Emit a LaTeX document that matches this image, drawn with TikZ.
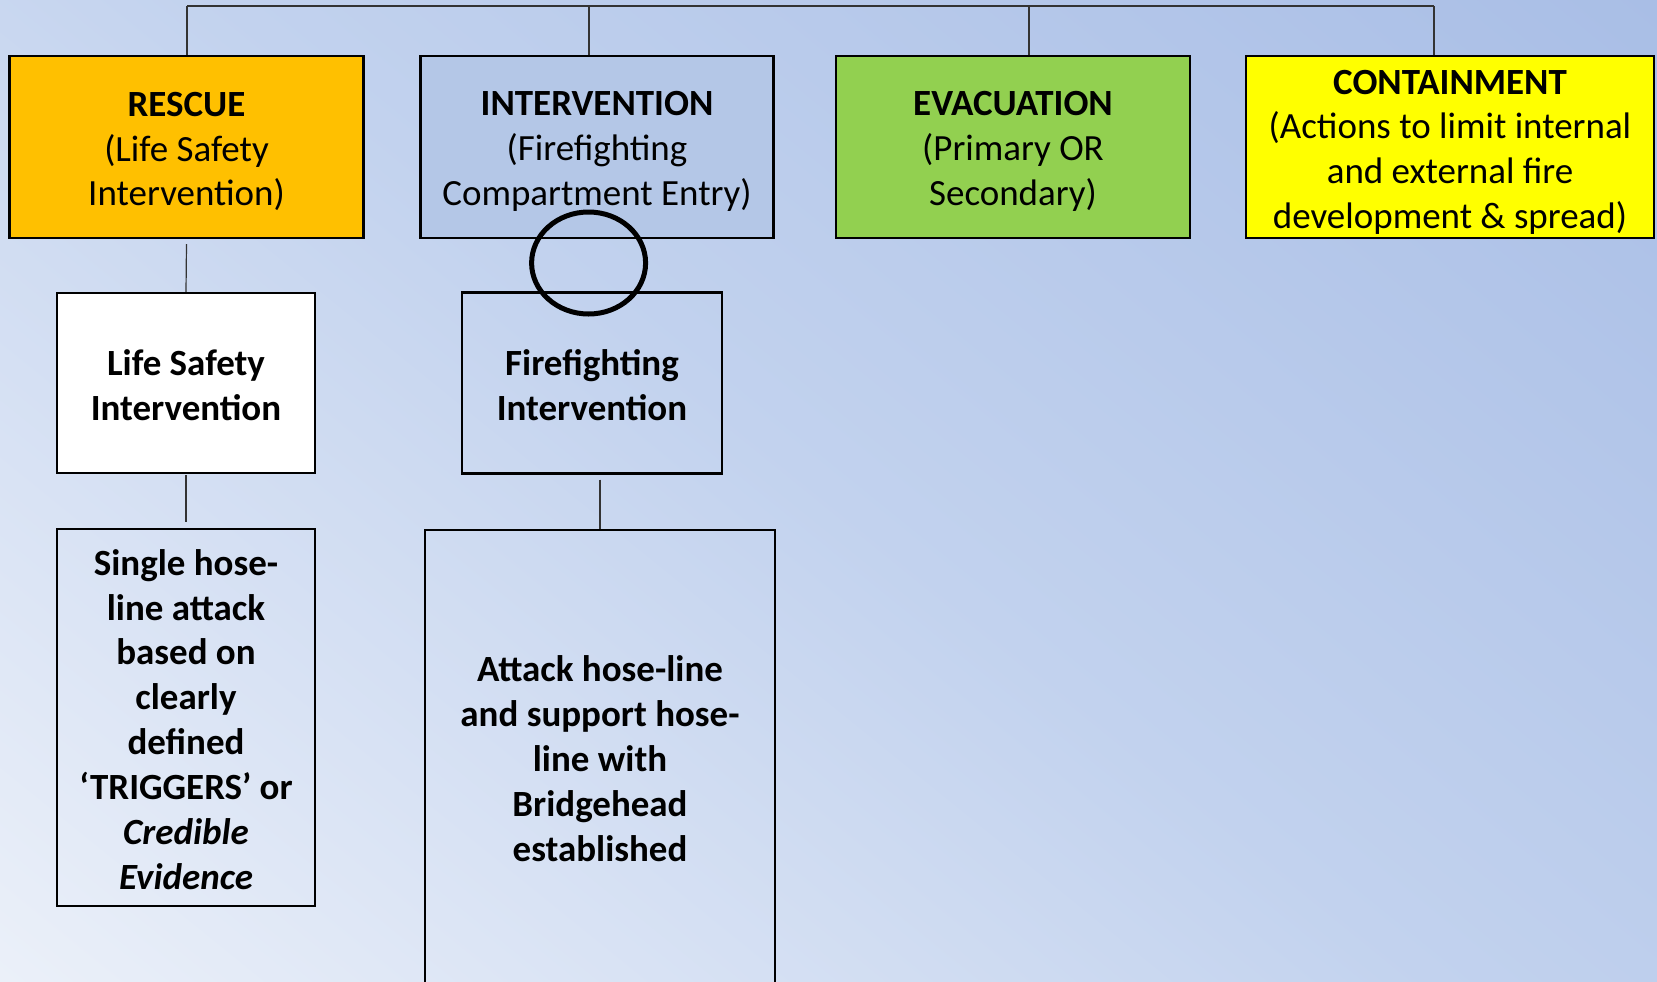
\documentclass[tikz,border=0pt]{standalone}
\usepackage{fontspec}
\setmainfont{Carlito}
\usetikzlibrary{calc}

\definecolor{bgA}{HTML}{EBF0F9}
\definecolor{bgB}{HTML}{C2D2EE}
\definecolor{bgC}{HTML}{A9BEE6}
\definecolor{rescueC}{HTML}{FFC000}
\definecolor{intervC}{HTML}{B4C7E7}
\definecolor{evacC}{HTML}{92D050}
\definecolor{containC}{HTML}{FFFF00}

% diagonal backdrop: light in the lower left, deeper blue in the upper right
\pgfdeclarehorizontalshading{bgshade}{2000bp}{color(0bp)=(bgA); color(48bp)=(bgA); color(950bp)=(bgB); color(1852bp)=(bgC); color(1900bp)=(bgC)}

\begin{document}
\begin{tikzpicture}[x=1bp,y=-1bp,
  box/.style={draw=black, line width=2.4bp, rectangle, inner sep=0pt},
  topbox/.style={box, minimum height=182bp},
  txt/.style={align=center, inner sep=0pt, font=\fontsize{37.1}{45.1}\selectfont},
  btxt/.style={txt, font=\fontsize{37.1}{45.1}\selectfont\bfseries},
  conn/.style={draw=black!80, line width=1.2bp},
  ring/.style={draw=black, line width=5bp}]
\useasboundingbox (0,0) rectangle (1657,981);
\begin{scope}
\clip (0,0) rectangle (1657,981);
\node[inner sep=0pt, rotate=51] (backdrop) at (828.5,490.5) {\pgfuseshading{bgshade}};

% top row
\node[topbox, fill=rescueC, minimum width=354bp] (rescue) at (186.5,147) {};
\node[txt] (rescue-t) at ($(rescue)+(0,4.5)$)
  {\textbf{RESCUE}\\(Life Safety\\Intervention)};
\node[topbox, fill=intervC, minimum width=353bp] (interv) at (597,147) {};
\node[txt] (interv-t) at ($(interv)+(0,4.5)$)
  {\textbf{INTERVENTION}\\(Firefighting\\Compartment Entry)};
\node[topbox, fill=evacC, minimum width=354bp] (evac) at (1013,147) {};
\node[txt] (evac-t) at ($(evac)+(0,4.5)$)
  {\textbf{EVACUATION}\\(Primary OR\\Secondary)};
\node[topbox, fill=containC, minimum width=408bp] (contain) at (1450,147) {};
\node[txt] (contain-t) at ($(contain)+(0,5.3)$)
  {\textbf{CONTAINMENT}\\(Actions to limit internal\\and external fire\\development \& spread)};

% second row
\node[box, fill=white, minimum width=258bp, minimum height=180bp] (life) at (186,383) {};
\node[btxt] (life-t) at ($(life)+(0,2)$) {Life Safety\\Intervention};
\node[box, minimum width=260bp, minimum height=181bp] (fire) at (592,383) {};
\node[btxt] (fire-t) at ($(fire)+(0,2)$) {Firefighting\\Intervention};

% third row
\node[box, minimum width=258bp, minimum height=377bp] (single) at (186,717.5) {};
\node[btxt] (single-t) at ($(single)+(0,2)$)
  {Single hose-\\line attack\\based on\\clearly\\defined\\‘TRIGGERS’ or\\\itshape Credible\\\itshape Evidence};
\node[box, minimum width=350bp, minimum height=458bp] (attack) at (600,759) {};
\node[btxt] (attack-t) at (attack)
  {Attack hose-line\\and support hose-\\line with\\Bridgehead\\established};

% bus across the top
\coordinate (tapR) at (187,6);
\coordinate (tapI) at (589,6);
\coordinate (tapE) at (1029,6);
\coordinate (tapC) at (1434,6);
\draw[conn] (tapR) -- (tapC);
\draw[conn] (tapR) -- (tapR |- rescue.north);
\draw[conn] (tapI) -- (tapI |- interv.north);
\draw[conn] (tapE) -- (tapE |- evac.north);
\draw[conn] (tapC) -- (tapC |- contain.north);

% vertical links
\draw[conn] ([yshift=-5bp]rescue.south) -- (life.north);
\draw[conn] ([yshift=-1bp]life.south) -- ([yshift=6bp]single.north);
\draw[conn] ([yshift=-5bp]fire.south -| attack.north) -- (attack.north);

% highlight ring between the intervention boxes
\draw[ring] (588.6,263) ellipse [x radius=57, y radius=51];
\end{scope}
\end{tikzpicture}
\end{document}
